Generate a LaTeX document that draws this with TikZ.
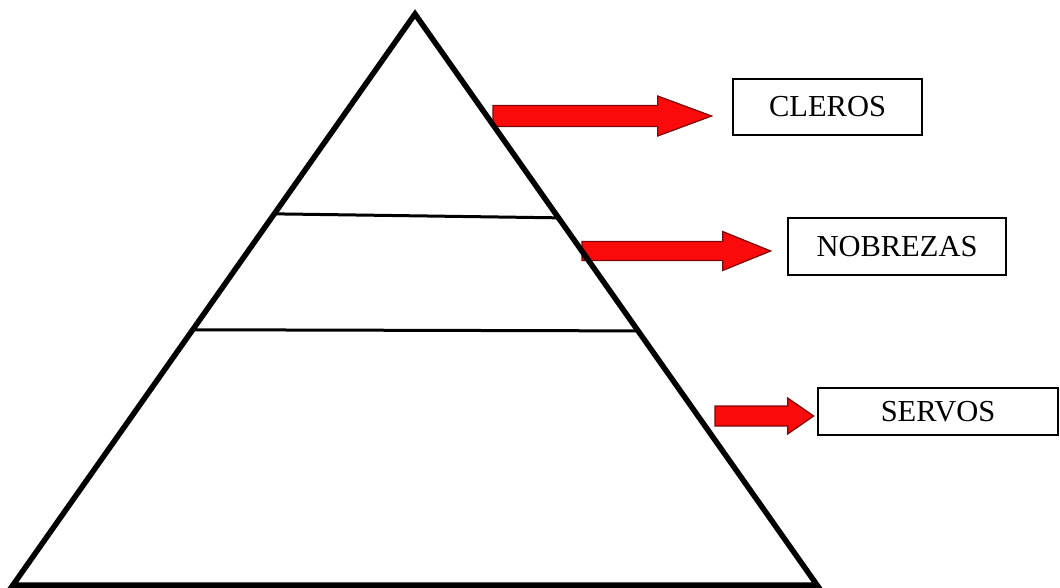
\documentclass[tikz,border=0pt]{standalone}
\usepackage{fontspec}
\setmainfont{Liberation Serif}
\usepackage{tikz}
\usetikzlibrary{calc}
\definecolor{arrowred}{HTML}{FA0A0A}
\definecolor{arrowedge}{HTML}{7A0808}
\tikzset{
  pyrside/.style={draw=black,line width=5.5pt,line join=miter},
  layerline/.style={draw=black,line width=3pt},
  classbox/.style={draw=black,line width=2.6pt,fill=white,inner sep=0pt,font=\fontsize{30.5}{33}\selectfont},
  blockarrow/.style={draw=arrowedge,fill=arrowred,line width=1.2pt,line join=miter},
}

\begin{document}
\begin{tikzpicture}[x=1pt,y=-1pt]
  \useasboundingbox (0,0) rectangle (1060,588);
  % pyramid corners
  \coordinate (apex) at (415,14);
  \coordinate (bl) at (13,585);
  \coordinate (br) at (817,585);
  % class boxes
  \node[classbox,minimum width=189pt,minimum height=56pt] (cleros) at (827.5,107) {CLEROS};
  \node[classbox,minimum width=218pt,minimum height=57pt] (nobrezas) at (897,246.5) {NOBREZAS};
  \node[classbox,minimum width=240pt,minimum height=47pt] (servos) at (938,411.5) {SERVOS};
  % arrow ends
  \coordinate (s1) at (493,116);
  \coordinate (t1) at ($(cleros.west)+(-20,9)$);
  \coordinate (s2) at (582,251);
  \coordinate (t2) at ($(nobrezas.west)+(-16,4.5)$);
  \coordinate (s3) at (715,416);
  \coordinate (t3) at ($(servos.west)+(-3,4.5)$);
  % arrows
  \draw[blockarrow] ($(s1)+(0,-10.5)$) -- ($(t1)+(-54,-10.5)$) -- ($(t1)+(-54,-20)$) -- (t1)
    -- ($(t1)+(-54,20)$) -- ($(t1)+(-54,10.5)$) -- ($(s1)+(0,10.5)$) -- cycle;
  \draw[blockarrow] ($(s2)+(0,-9.5)$) -- ($(t2)+(-48,-9.5)$) -- ($(t2)+(-48,-19.5)$) -- (t2)
    -- ($(t2)+(-48,19.5)$) -- ($(t2)+(-48,9.5)$) -- ($(s2)+(0,9.5)$) -- cycle;
  \draw[blockarrow] ($(s3)+(0,-10)$) -- ($(t3)+(-26,-10)$) -- ($(t3)+(-26,-18)$) -- (t3)
    -- ($(t3)+(-26,18)$) -- ($(t3)+(-26,10)$) -- ($(s3)+(0,10)$) -- cycle;
  % pyramid
  \draw[layerline] ($(apex)!0.350!(bl)$) -- ($(apex)!0.357!(br)$);
  \draw[layerline] ($(apex)!0.553!(bl)$) -- ($(apex)!0.555!(br)$);
  \draw[pyrside] (apex) -- (br) -- (bl) -- cycle;
\end{tikzpicture}
\end{document}
